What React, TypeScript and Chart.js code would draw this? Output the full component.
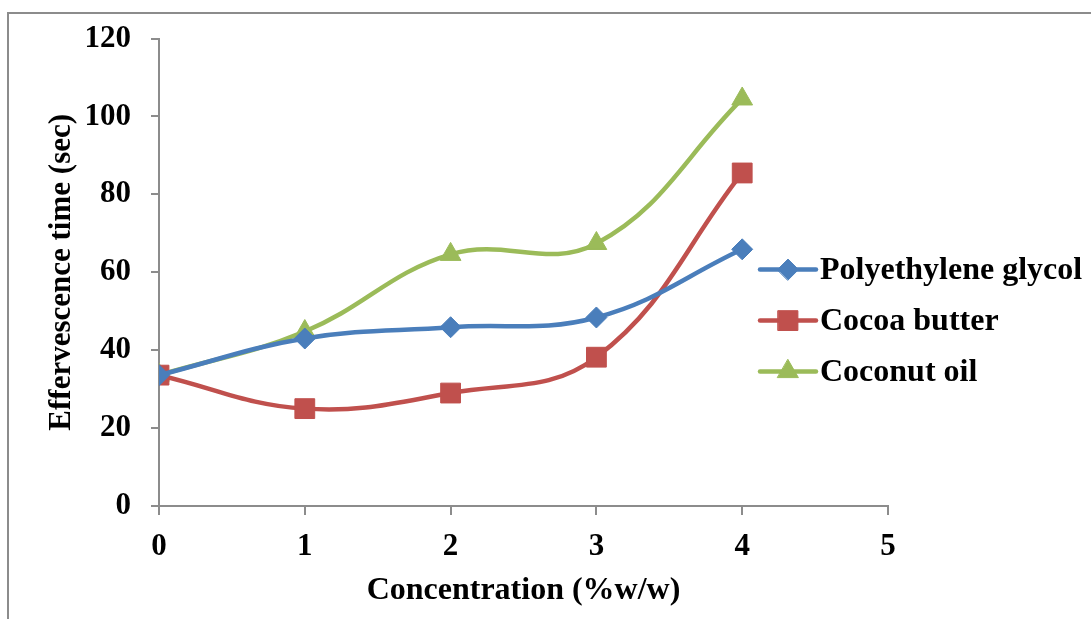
import React, { useEffect, useRef } from "react";
import { Chart, registerables } from "chart.js";
import { drawPoint } from "chart.js/helpers";

Chart.register(...registerables);

const concentration = [0, 1, 2, 3, 4];
const pegValues = [33.6, 43.0, 45.9, 48.4, 65.9];
const cocoaValues = [33.6, 25.0, 29.0, 38.2, 85.5];
const coconutValues = [33.6, 44.8, 64.6, 67.4, 104.5];

const seriesNames = ["Polyethylene glycol", "Cocoa butter", "Coconut oil"];
const seriesColors = ["#4A7EBB", "#C0504D", "#9BBB59"];
const seriesStyles = ["rectRot", "rect", "triangle"];
const seriesRadius = [10.5, 14, 12];

const xTitle = "Concentration (%w/w)";
const yTitle = "Effervescence time (sec)";

const FONT = "'Liberation Serif', 'Times New Roman', serif";
const AXIS_COLOR = "#8C8C8C";

const legendPlugin = {
  id: "customLegend",
  afterDraw(chart: any) {
    const ctx = chart.ctx;
    const area = chart.chartArea;
    const x0 = area.right - 128;
    const x1 = area.right - 72;
    const yStart = area.top + 231;
    const gap = 51;
    ctx.save();
    chart.data.datasets.forEach((ds: any, i: number) => {
      const y = yStart + i * gap;
      ctx.strokeStyle = ds.borderColor;
      ctx.lineWidth = 4.5;
      ctx.lineCap = "round";
      ctx.beginPath();
      ctx.moveTo(x0, y);
      ctx.lineTo(x1, y);
      ctx.stroke();
      ctx.fillStyle = ds.pointBackgroundColor;
      ctx.strokeStyle = ds.pointBorderColor;
      ctx.lineWidth = 1;
      drawPoint(ctx, { pointStyle: ds.pointStyle, radius: ds.pointRadius, rotation: 0, borderWidth: 1 }, (x0 + x1) / 2, y);
      ctx.fillStyle = "#000";
      ctx.font = `bold 32px ${FONT}`;
      ctx.textBaseline = "middle";
      ctx.textAlign = "left";
      ctx.fillText(ds.label, x1 + 4, y + 1);
    });
    ctx.restore();
  },
};

export default function App() {
  const canvasRef = useRef<HTMLCanvasElement | null>(null);

  useEffect(() => {
    if (!canvasRef.current) return;
    const allValues = [pegValues, cocoaValues, coconutValues];
    const chart = new Chart(canvasRef.current, {
      type: "line",
      data: {
        datasets: allValues.map((vals, i) => ({
          label: seriesNames[i],
          data: concentration.map((c, j) => ({ x: c, y: vals[j] })),
          borderColor: seriesColors[i],
          backgroundColor: seriesColors[i],
          pointBackgroundColor: seriesColors[i],
          pointBorderColor: seriesColors[i],
          pointStyle: seriesStyles[i] as any,
          pointRadius: seriesRadius[i],
          pointBorderWidth: 1,
          borderWidth: 4.5,
          tension: 0.4,
          fill: false,
        })),
      },
      options: {
        responsive: false,
        animation: false,
        devicePixelRatio: 1,
        layout: { padding: { left: 0, top: 38, right: 203, bottom: 0 } },
        plugins: {
          legend: { display: false },
          tooltip: { enabled: false },
        },
        scales: {
          x: {
            type: "linear",
            min: 0,
            max: 5,
            ticks: {
              stepSize: 1,
              color: "#000",
              padding: 13,
              font: { family: FONT, size: 31, weight: "bold" },
            },
            grid: {
              drawOnChartArea: false,
              drawTicks: true,
              tickLength: 9,
              color: AXIS_COLOR,
              lineWidth: 2,
            },
            border: { display: true, color: AXIS_COLOR, width: 2 },
            title: {
              display: true,
              text: xTitle,
              color: "#000",
              font: { family: FONT, size: 32, weight: "bold" },
              padding: { top: 0, bottom: 9 },
            },
            afterFit(scale: any) {
              scale.height = 113;
            },
          },
          y: {
            type: "linear",
            min: 0,
            max: 120,
            ticks: {
              stepSize: 20,
              color: "#000",
              padding: 20,
              font: { family: FONT, size: 31, weight: "bold" },
            },
            grid: {
              drawOnChartArea: false,
              drawTicks: true,
              tickLength: 8,
              color: AXIS_COLOR,
              lineWidth: 2,
            },
            border: { display: true, color: AXIS_COLOR, width: 2 },
            title: {
              display: true,
              text: yTitle,
              color: "#000",
              font: { family: FONT, size: 31, weight: "bold" },
              padding: { top: 43, bottom: 0 },
            },
            afterFit(scale: any) {
              scale.width = 159;
            },
          },
        },
      },
      plugins: [legendPlugin],
    });
    return () => chart.destroy();
  }, []);

  return (
    <div
      style={{
        position: "fixed",
        left: 0,
        top: 0,
        width: 1091,
        height: 619,
        overflow: "hidden",
        background: "#fff",
      }}
    >
      <div
        style={{
          position: "absolute",
          left: 7,
          top: 12,
          width: 1200,
          height: 800,
          borderLeft: `2px solid ${AXIS_COLOR}`,
          borderTop: `2px solid ${AXIS_COLOR}`,
        }}
      />
      <canvas
        ref={canvasRef}
        width={1091}
        height={619}
        style={{ position: "absolute", left: 0, top: 0, width: 1091, height: 619 }}
      />
    </div>
  );
}
